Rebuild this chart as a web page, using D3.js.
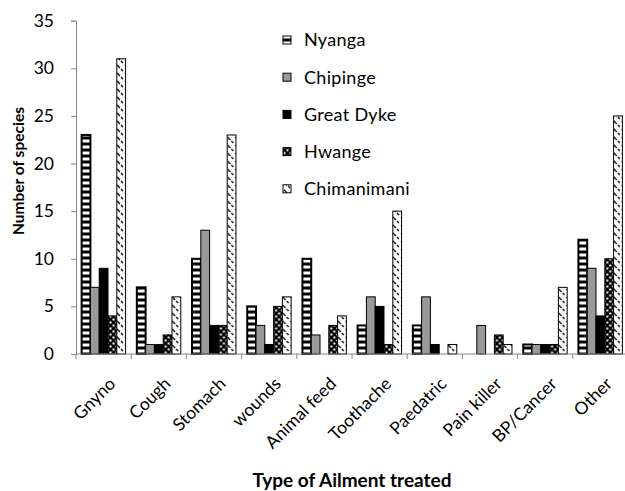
<!DOCTYPE html>
<html>
<head>
<meta charset="utf-8">
<script src="https://cdn.jsdelivr.net/npm/d3@7"></script>
<style>
  html, body { margin: 0; padding: 0; background: #fff; }
  svg { display: block; font-family: Lato, "Open Sans", sans-serif; }
</style>
</head>
<body>
<div id="chart"></div>
<script>
// Dados
var categories = ["Gnyno", "Cough", "Stomach", "wounds", "Animal feed", "Toothache", "Paedatric", "Pain killer", "BP/Cancer", "Other"];
var series = ["Nyanga", "Chipinge", "Great Dyke", "Hwange", "Chimanimani"];
var nyanga      = [23, 7, 10, 5, 10, 3, 3, 0, 1, 12];
var chipinge    = [7, 1, 13, 3, 2, 6, 6, 3, 1, 9];
var greatDyke   = [9, 1, 3, 1, 0, 5, 1, 0, 1, 4];
var hwange      = [4, 2, 3, 5, 3, 1, 0, 2, 1, 10];
var chimanimani = [31, 6, 23, 6, 4, 15, 1, 1, 7, 25];
var yTicks = [0, 5, 10, 15, 20, 25, 30, 35];

var values = [nyanga, chipinge, greatDyke, hwange, chimanimani];
var fills = ["url(#p-nyanga)", "#999999", "#000000", "url(#p-hwange)", "url(#p-chim)"];

var width = 625, height = 491;
var svg = d3.select("#chart").append("svg")
  .attr("width", width)
  .attr("height", height);
svg.append("rect").attr("width", width).attr("height", height).attr("fill", "#fff");

// Padrões de preenchimento
var defs = svg.append("defs");
var pn = defs.append("pattern").attr("id", "p-nyanga")
  .attr("patternUnits", "userSpaceOnUse").attr("width", 6).attr("height", 6);
pn.append("rect").attr("width", 6).attr("height", 6).attr("fill", "#000");
pn.append("rect").attr("y", 1.5).attr("width", 6).attr("height", 3).attr("fill", "#fff");

var ph = defs.append("pattern").attr("id", "p-hwange")
  .attr("patternUnits", "userSpaceOnUse").attr("width", 6).attr("height", 6);
ph.append("rect").attr("width", 6).attr("height", 6).attr("fill", "#000");
ph.append("rect").attr("x", 0.5).attr("y", 0.5).attr("width", 2).attr("height", 2).attr("fill", "#fff");
ph.append("rect").attr("x", 3.5).attr("y", 3.5).attr("width", 2).attr("height", 2).attr("fill", "#fff");

var pc = defs.append("pattern").attr("id", "p-chim")
  .attr("patternUnits", "userSpaceOnUse").attr("width", 8).attr("height", 8);
pc.append("rect").attr("width", 8).attr("height", 8).attr("fill", "#fff");
pc.append("path").attr("d", "M1,1L4,4M5,5L7,7").attr("stroke", "#000").attr("stroke-width", 1.3);

// Escalas
var x0 = d3.scaleBand().domain(categories).range([76, 628]).padding(0);
var x1 = d3.scaleBand().domain(series).range([0, x0.bandwidth()])
  .paddingInner(0).paddingOuter(0.64);
var y = d3.scaleLinear().domain([0, 35]).range([354, 20.7]);

// Barras
var groups = svg.selectAll(".cat")
  .data(categories)
  .enter().append("g")
  .attr("class", "cat")
  .attr("transform", function(d) { return "translate(" + x0(d) + ",0)"; });

groups.selectAll("rect")
  .data(function(c, i) { return series.map(function(s, j) { return {s: s, j: j, v: values[j][i]}; }); })
  .enter().append("rect")
  .filter(function(d) { return d.v > 0; })
  .attr("x", function(d) { return x1(d.s); })
  .attr("y", function(d) { return y(d.v); })
  .attr("width", x1.bandwidth())
  .attr("height", function(d) { return y(0) - y(d.v); })
  .attr("fill", function(d) { return fills[d.j]; })
  .attr("stroke", "#000")
  .attr("stroke-width", function(d) { return d.j === 0 ? 2 : 1; });

// Eixos
var yAxis = svg.append("g")
  .attr("transform", "translate(76,0)")
  .call(d3.axisLeft(y).tickValues(yTicks).tickSize(5).tickPadding(17));
yAxis.select(".domain").attr("stroke", "#868686");
yAxis.selectAll(".tick line").attr("stroke", "#868686");
yAxis.selectAll("text").attr("font-size", 17.5).attr("fill", "#000").attr("font-family", "Lato");

var xAxis = svg.append("g").attr("transform", "translate(0,354)");
xAxis.append("line").attr("x1", 76).attr("x2", 628).attr("stroke", "#868686");
xAxis.selectAll(".xt")
  .data(categories.concat(["end"]))
  .enter().append("line")
  .attr("x1", function(d, i) { return i < categories.length ? x0(d) : x0.range()[1]; })
  .attr("x2", function(d, i) { return i < categories.length ? x0(d) : x0.range()[1]; })
  .attr("y1", 0).attr("y2", 5)
  .attr("stroke", "#868686");
xAxis.selectAll(".xl")
  .data(categories)
  .enter().append("g")
  .attr("transform", function(d) {
    return "translate(" + (x0(d) + x0.bandwidth() / 2 + 4) + ",22)";
  })
  .append("text")
  .attr("text-anchor", "end")
  .attr("font-size", 17.5)
  .attr("transform", "rotate(-45)")
  .attr("dy", "0.72em")
  .text(function(d) { return d; });

// Títulos
svg.append("text")
  .attr("transform", "translate(24,171) rotate(-90)")
  .attr("text-anchor", "middle")
  .attr("font-size", 15.5)
  .attr("font-weight", "bold")
  .text("Number of species");
svg.append("text")
  .attr("x", 352).attr("y", 487)
  .attr("text-anchor", "middle")
  .attr("font-size", 19)
  .attr("font-weight", "bold")
  .text("Type of Ailment treated");

// Legenda
var legend = svg.selectAll(".leg")
  .data(series)
  .enter().append("g")
  .attr("class", "leg")
  .attr("transform", function(d, i) { return "translate(283," + (40 + i * 37.2) + ")"; });
legend.append("rect")
  .attr("x", 0).attr("y", -4).attr("width", 8).attr("height", 8)
  .attr("fill", function(d, i) { return fills[i]; })
  .attr("stroke", "#000")
  .attr("stroke-width", 1);
legend.append("text")
  .attr("x", 21).attr("dy", "0.36em")
  .attr("font-size", 18)
  .attr("letter-spacing", 0.3)
  .text(function(d) { return d; });
</script>
</body>
</html>
